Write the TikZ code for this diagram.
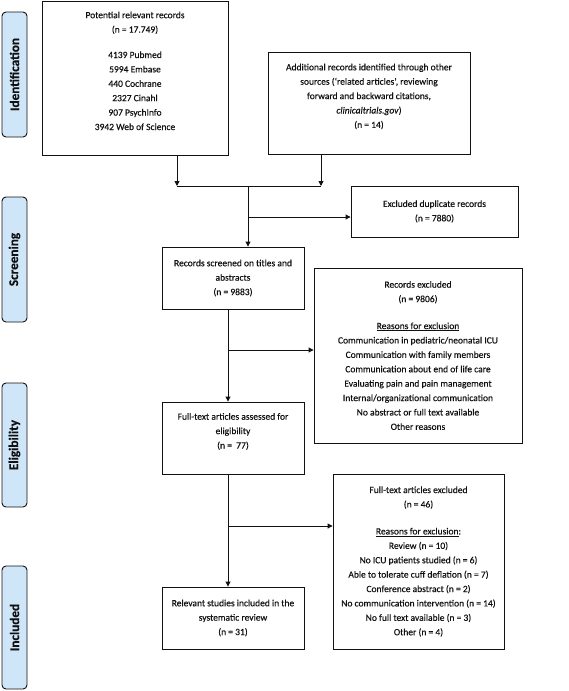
\documentclass[tikz,border=0pt]{standalone}
\usepackage{fontspec}
\setmainfont{Carlito}[FakeBold=0.35]
\newfontfamily\sidefont{Carlito}[FakeBold=0.5]
\usetikzlibrary{arrows.meta}
\definecolor{sidefill}{HTML}{CFE5F8}
\definecolor{ink}{HTML}{111111}
\begin{document}
\begin{tikzpicture}[x=1pt,y=-1pt,
  box/.style={draw=ink, line width=0.9pt, align=center, inner sep=0pt, text=ink,
    font=\fontsize{9.5}{14.4}\selectfont},
  side/.style={draw=ink, line width=0.9pt, fill=sidefill, rounded corners=4pt, rotate=90,
    inner sep=0pt, text=ink, font=\fontsize{13.2}{14}\selectfont\bfseries},
  arr/.style={draw=ink, line width=0.9pt, -{Triangle[length=5pt,width=5pt]}},
  ln/.style={draw=ink, line width=0.9pt}]
\useasboundingbox (0,0) rectangle (568,691);

% side bars
\node[side, minimum width=125, minimum height=25] (sid) at (14.5,74.5) {Identification};
\node[side, minimum width=125, minimum height=25] (ssc) at (14.5,259.5) {Screening};
\node[side, minimum width=124, minimum height=25] (sel) at (14.5,445) {Eligibility};
\node[side, minimum width=123, minimum height=25] (sin) at (14.5,627.5) {Included};

% boxes
\node[box, minimum width=186, minimum height=154] (b1) at (135,78)
  {Potential relevant records\\(n = 17.749)\\[11pt]4139 Pubmed\\5994 Embase\\440 Cochrane\\2327 Cinahl\\907 PsychInfo\\3942 Web of Science\\ \mbox{}};
\node[box, minimum width=202, minimum height=102] (b2) at (369,103)
  {Additional records identified through other\\sources (‘related articles’, reviewing\\forward and backward citations,\\\textit{clinicaltrials.gov})\\(n = 14)\\ \mbox{}};
\node[box, minimum width=167, minimum height=51] (dup) at (434.5,211.5)
  {Excluded duplicate records\\(n = 7880)};
\node[box, minimum width=142, minimum height=62] (b3) at (233,278)
  {Records screened on titles and\\abstracts\\(n = 9883)};
\node[box, minimum width=208, minimum height=175] (b4) at (418,355.5)
  {Records excluded\\(n = 9806)\\[12.6pt]\underline{Reasons for exclusion}\\Communication in pediatric/neonatal ICU\\Communication with family members\\Communication about end of life care\\Evaluating pain and pain management\\Internal/organizational communication\\No abstract or full text available\\Other reasons};
\node[box, minimum width=142, minimum height=72] (b5) at (233,438)
  {Full-text articles assessed for\\eligibility\\(n =\ \ 77)\\ \mbox{}};
\node[box, minimum width=142, minimum height=62] (b6) at (233,618)
  {Relevant studies included in the\\systematic review\\(n = 31)};
\node[box, minimum width=171, minimum height=175] (b7) at (418.5,561.5)
  {Full-text articles excluded\\(n = 46)\\[12.6pt]\underline{Reasons for exclusion}:\\Review (n = 10)\\No ICU patients studied (n = 6)\\Able to tolerate cuff deflation (n = 7)\\Conference abstract (n = 2)\\No communication intervention (n = 14)\\No full text available (n = 3)\\Other (n = 4)};

% connectors
\coordinate (j1) at (177,186);
\coordinate (j2) at (321,186);
\coordinate (jm) at (248,186);
\coordinate (jd) at (248,217);
\coordinate (c3) at (228,350);
\coordinate (c5) at (228,526);

\draw[arr] (b1.south -| j1) -- (j1);
\draw[arr] (b2.south -| j2) -- (j2);
\draw[ln] (j1) -- (j2);
\draw[arr] (jm) -- (b3.north -| jm);
\draw[arr] (jd) -- (dup.west |- jd);
\draw[arr] (b3.south -| c3) -- (b5.north -| c3);
\draw[arr] (c3) -- (b4.west |- c3);
\draw[arr] (b5.south -| c5) -- (b6.north -| c5);
\draw[arr] (c5) -- (b7.west |- c5);
\end{tikzpicture}
\end{document}
